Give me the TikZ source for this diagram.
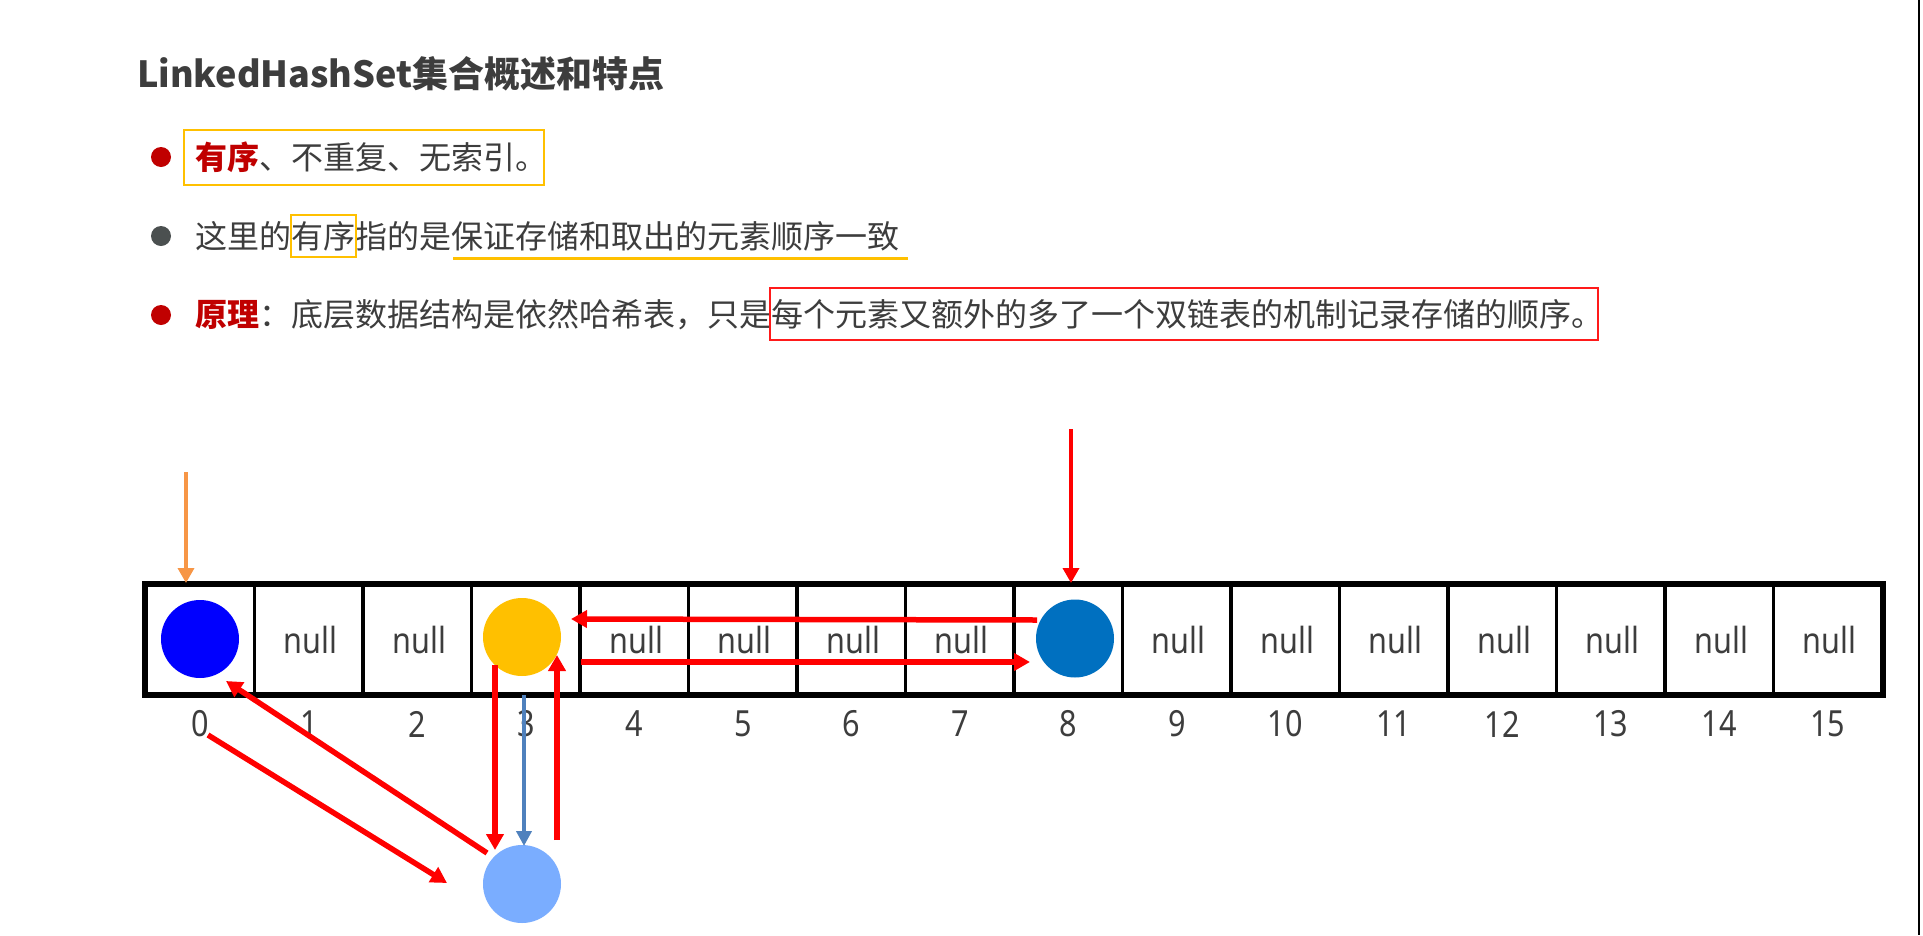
\documentclass[tikz,border=0pt]{standalone}
\usepackage{fontspec}
\newfontfamily\cjk{Noto Sans CJK SC}
\newfontfamily\numfont[FakeStretch=0.85]{Noto Sans}
\usetikzlibrary{arrows.meta}
\definecolor{txt}{HTML}{3D3D3D}
\definecolor{hred}{HTML}{C00000}
\definecolor{ybox}{HTML}{FFC000}
\definecolor{rbox}{HTML}{FF1A1A}
\definecolor{dotgray}{HTML}{4B5050}
\definecolor{blueA}{HTML}{0000FF}
\definecolor{blueB}{HTML}{0070C0}
\definecolor{lblue}{HTML}{7AADFF}
\definecolor{yel}{HTML}{FFC000}
\definecolor{orng}{HTML}{F79646}
\definecolor{steel}{HTML}{4F81BD}
\definecolor{redA}{HTML}{FF0000}
\begin{document}
\begin{tikzpicture}[x=1pt,y=-1pt,
  body/.style={anchor=west,inner sep=0pt,text=txt,font=\cjk\fontsize{32}{38}\selectfont},
  bdot/.style={circle,fill=#1,minimum size=20pt,inner sep=0pt},
  cell/.style={draw=black,line width=3.5pt,minimum width=108.5pt,minimum height=109pt,inner sep=0pt},
  nulltxt/.style={inner sep=0pt,text=txt,font=\numfont\fontsize{36}{40}\selectfont},
  numtxt/.style={inner sep=0pt,text=txt,font=\numfont\fontsize{36}{40}\selectfont},
  ball/.style={circle,fill=#1,minimum size=78pt,inner sep=0pt},
  thinarrow/.style={draw=#1,line width=3.5pt,-{Triangle[length=15pt,width=16pt]}},
  thickarrow/.style={draw=redA,line width=5.5pt,-{Triangle[length=16pt,width=17pt]}},
  blarrow/.style={draw=steel,line width=4.5pt,-{Triangle[length=15pt,width=15pt]}}
]
\useasboundingbox (0,0) rectangle (1923,935);
\fill[white] (0,0) rectangle (1923,935);

% title
\node[anchor=west,inner sep=0pt,text=txt,font=\cjk\bfseries\fontsize{36}{42}\selectfont] (title) at (137,74) {LinkedHashSet集合概述和特点};

% bullets
\node[bdot=hred] (d1) at (161,157) {};
\node[bdot=dotgray] (d2) at (161,236) {};
\node[bdot=hred] (d3) at (161,315) {};

\node[body] (t1) at (195,157.5) {{\bfseries\color{hred}有序}、不重复、无索引。};
\node[body] (t2) at (195,236) {这里的有序指的是保证存储和取出的元素顺序一致};
\node[body] (t3) at (195,315) {{\bfseries\color{hred}原理}：底层数据结构是依然哈希表，只是每个元素又额外的多了一个双链表的机制记录存储的顺序。};

\draw[ybox,line width=2.5pt] (184,130) rectangle (544,185);
\draw[ybox,line width=2.5pt] (291,215) rectangle (356,257);
\draw[ybox,line width=3pt] (453,258.5) -- (908,258.5);
\draw[rbox,line width=2pt] (770,288) rectangle (1598,340);

% array
\foreach \i in {0,...,15}{
  \node[cell] (c\i) at ({200.25+108.5*\i},639.5) {};
  \node[numtxt] (l\i) at ({200.25+108.5*\i},724) {\i};
}
\draw[line width=4.5pt] (c0.north west) rectangle (c15.south east);
\foreach \i in {1,2,4,5,6,7,9,10,11,12,13,14,15}{
  \node[nulltxt] (n\i) at ([xshift=2pt]c\i.center) {null};
}

% balls
\node[ball=blueA] (b0) at (200,639) {};
\node[ball=yel] (b3) at (522,637) {};
\node[ball=blueB] (b8) at (1075,638.5) {};
\node[ball=lblue] (bn) at (522,884) {};

% arrows
\coordinate (oS) at (186,472); \coordinate (oE) at (186,583);
\draw[thinarrow=orng] (oS) -- (oE);
\coordinate (rS) at (1071,429); \coordinate (rE) at (1071,583);
\draw[thinarrow=redA] (rS) -- (rE);

\coordinate (hLs) at (1037,620); \coordinate (hLe) at (571,619);
\draw[thickarrow] (hLs) -- (hLe);
\coordinate (hRs) at (581,662); \coordinate (hRe) at (1030,662);
\draw[thickarrow] (hRs) -- (hRe);

\coordinate (dUs) at (487,853); \coordinate (dUe) at (226,681);
\draw[thickarrow] (dUs) -- (dUe);
\coordinate (dDs) at (208,735); \coordinate (dDe) at (447,883);
\draw[thickarrow] (dDs) -- (dDe);

\coordinate (vDs) at (495,665); \coordinate (vDe) at (495,850);
\draw[thickarrow] (vDs) -- (vDe);
\coordinate (vBs) at (524,695); \coordinate (vBe) at (524,846);
\draw[blarrow] (vBs) -- (vBe);
\coordinate (vUs) at (557,840); \coordinate (vUe) at (557,655);
\draw[thickarrow] (vUs) -- (vUe);

% right edge line
\coordinate (eT) at (1919,0); \coordinate (eB) at (1919,935);
\draw[line width=2.5pt] (eT) -- (eB);
\end{tikzpicture}
\end{document}
